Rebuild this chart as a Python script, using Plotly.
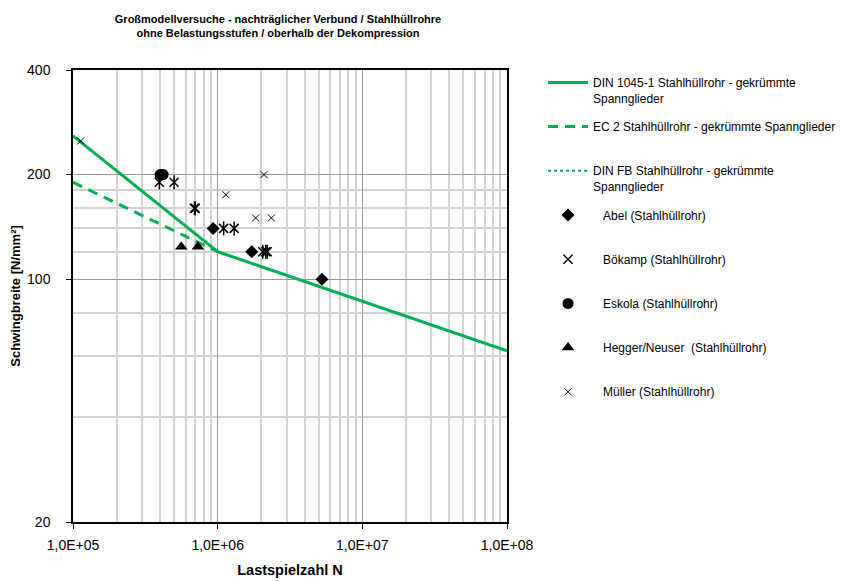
import plotly.graph_objects as go

# ---- data ----
din1045_n = [1e5, 1e6, 1e8]
din1045_s = [258.5, 120, 62.2]
ec2_n = [1e5, 1e6]
ec2_s = [190, 120]
dinfb_n = [1e5, 1e6, 1e8]
dinfb_s = [258.5, 120, 62.2]

abel_n = [9.3e5, 1.72e6, 5.26e6]
abel_s = [140, 120, 100]
boekamp_n = [3.95e5, 5.0e5, 6.9e5, 7.0e5, 1.1e6, 1.3e6, 2.05e6, 2.15e6, 2.2e6]
boekamp_s = [190, 190, 160, 160, 140, 140, 120, 120, 120]
eskola_n = [4.0e5, 4.2e5]
eskola_s = [200, 200]
hegger_n = [5.6e5, 7.3e5]
hegger_s = [124, 124]
mueller_n = [1.13e5, 1.14e6, 2.09e6, 1.83e6, 2.35e6]
mueller_s = [250, 175, 200, 150, 150]

x_tickvals = [1e5, 1e6, 1e7, 1e8]
x_ticktext = ["1,0E+05", "1,0E+06", "1,0E+07", "1,0E+08"]
y_tickvals = [20, 100, 200, 400]
y_ticktext = ["20", "100", "200", "400"]
x_minor = [m * 10 ** e for e in (5, 6, 7) for m in range(2, 10)]
y_minor = [40, 60, 80, 120, 140, 160, 180]

GREEN = "#00B050"
FONT = "Liberation Sans, Arial, sans-serif"
BR = "<br>&nbsp;"
IND = "&nbsp;&nbsp;&nbsp;"

fig = go.Figure()
fig.add_trace(go.Scatter(x=dinfb_n, y=dinfb_s, mode="lines", name="DIN FB Stahlhüllrohr - gekrümmte<br>Spannglieder",
                         line=dict(color=GREEN, width=2, dash="dot"), legendgroup="g3", legendrank=3))
fig.add_trace(go.Scatter(x=din1045_n, y=din1045_s, mode="lines", name="DIN 1045-1 Stahlhüllrohr - gekrümmte<br>Spannglieder",
                         line=dict(color=GREEN, width=3), legendgroup="g1", legendrank=1))
fig.add_trace(go.Scatter(x=ec2_n, y=ec2_s, mode="lines", name="EC 2 Stahlhüllrohr - gekrümmte Spannglieder" + BR,
                         line=dict(color=GREEN, width=3, dash="10px,7px"), legendgroup="g2", legendrank=2))
fig.add_trace(go.Scatter(x=abel_n, y=abel_s, mode="markers", name=IND + "Abel (Stahlhüllrohr)" + BR,
                         marker=dict(symbol="diamond", size=10, color="black"), legendgroup="g4", legendrank=4))
fig.add_trace(go.Scatter(x=boekamp_n, y=boekamp_s, mode="markers", name=IND + "Bökamp (Stahlhüllrohr)" + BR,
                         marker=dict(symbol="x-thin-open", size=9, color="black", line=dict(width=1.5, color="black")),
                         legendgroup="g5", legendrank=5))
fig.add_trace(go.Scatter(x=boekamp_n, y=boekamp_s, mode="markers", showlegend=False,
                         marker=dict(symbol="line-ns-open", size=10, color="black", line=dict(width=1.5, color="black")),
                         legendgroup="g5", legendrank=5))
fig.add_trace(go.Scatter(x=eskola_n, y=eskola_s, mode="markers", name=IND + "Eskola (Stahlhüllrohr)" + BR,
                         marker=dict(symbol="circle", size=11, color="black"), legendgroup="g6", legendrank=6))
fig.add_trace(go.Scatter(x=hegger_n, y=hegger_s, mode="markers", name=IND + "Hegger/Neuser  (Stahlhüllrohr)" + BR,
                         marker=dict(symbol="triangle-up", size=11, color="black"), legendgroup="g7", legendrank=7))
fig.add_trace(go.Scatter(x=mueller_n, y=mueller_s, mode="markers", name=IND + "Müller (Stahlhüllrohr)" + BR,
                         marker=dict(symbol="x-thin-open", size=7, color="black", line=dict(width=1, color="black")),
                         legendgroup="g8", legendrank=8))

# page body adds an 8px offset: figure is 836x573 with left/top margins reduced by 8
fig.update_layout(
    width=836, height=573,
    margin=dict(l=65, r=337, t=62, b=59, autoexpand=False),
    paper_bgcolor="white", plot_bgcolor="white",
    font=dict(family=FONT, color="black", size=12),
    title=dict(text="Großmodellversuche - nachträglicher Verbund / Stahlhüllrohre<br>ohne Belastungsstufen / oberhalb der Dekompression",
               x=0.323, xanchor="center", y=0.974, yanchor="top",
               font=dict(family=FONT, size=11, weight="bold")),
    legend=dict(x=1.083, xanchor="left", yref="container", y=0.8951, yanchor="top", valign="top",
                maxheight=1.0,
                itemwidth=40, tracegroupgap=10, traceorder="grouped",
                font=dict(size=12, family=FONT), bgcolor="rgba(0,0,0,0)"),
    showlegend=True,
)
fig.update_xaxes(type="log", range=[5, 8], tickvals=x_tickvals, ticktext=x_ticktext,
                 showgrid=True, gridcolor="#9a9a9a", gridwidth=1,
                 showline=True, linecolor="black", linewidth=1.5, mirror=True,
                 ticks="outside", ticklen=5, tickcolor="black", tickfont=dict(size=14),
                 ticklabelstandoff=4,
                 minor=dict(tickvals=x_minor, showgrid=True, gridcolor="#d3d3d3", gridwidth=1.5, ticks=""),
                 zeroline=False,
                 title=dict(text="<b>Lastspielzahl N</b>", font=dict(size=14.5), standoff=13))
fig.update_yaxes(type="log", range=[1.30103, 2.60206], tickvals=y_tickvals, ticktext=y_ticktext,
                 showgrid=True, gridcolor="#9a9a9a", gridwidth=1,
                 showline=True, linecolor="black", linewidth=1.5, mirror=True,
                 ticks="outside", ticklen=5, tickcolor="black", tickfont=dict(size=14),
                 ticklabelstandoff=13,
                 minor=dict(tickvals=y_minor, showgrid=True, gridcolor="#d3d3d3", gridwidth=1.5, ticks=""),
                 zeroline=False,
                 title=dict(text="<b>Schwingbreite [N/mm²]</b>", font=dict(size=13), standoff=4))

fig.write_html("out.html")
